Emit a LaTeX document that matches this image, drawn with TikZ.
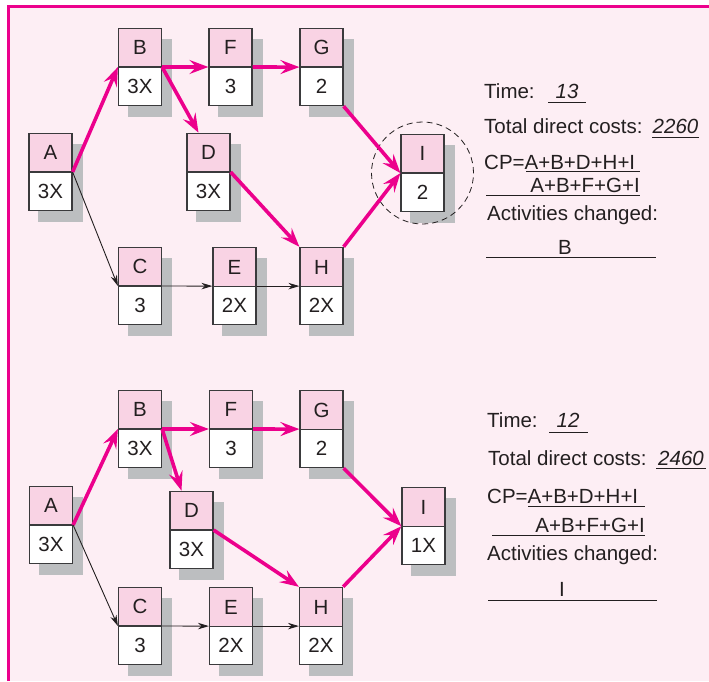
\documentclass[tikz,border=0pt]{standalone}
\usepackage{fontspec}
\setmainfont{Liberation Sans}
\usetikzlibrary{arrows.meta,calc,shapes.multipart,backgrounds}
\definecolor{NCPage}{HTML}{FDEEF4}
\definecolor{NCMagenta}{HTML}{EC008C}
\definecolor{NCHead}{HTML}{F9D3E4}
\definecolor{NCShadow}{HTML}{BCBEC0}
\definecolor{NCInk}{HTML}{231F20}
\definecolor{NCEdge}{HTML}{3A3A3C}
\newcommand{\ncfont}{\fontsize{20.5}{24}\selectfont}
\tikzset{
  crit/.style={-{Stealth[length=19pt,width=14pt,inset=7pt]},NCMagenta,line width=3.6pt},
  plain/.style={-{Stealth[length=11pt,width=6.5pt]},NCInk,line width=0.9pt},
  act/.style={rectangle split,rectangle split parts=2,draw=NCEdge,line width=1.2pt,
              rectangle split part fill={NCHead,white},minimum width=43pt,
              inner xsep=2pt,inner ysep=11.5pt,text height=14.5pt,text depth=0pt,
              text=NCInk,font=\ncfont},
  shade/.style={fill=NCShadow},
  note/.style={text=NCInk,font=\ncfont,anchor=base west,inner sep=0pt},
  noteend/.style={note,anchor=base east},
  value/.style={note,anchor=base,font=\ncfont\itshape},
  fieldline/.style={NCInk,line width=0.9pt},
  ring/.style={NCInk,line width=0.8pt,dash pattern=on 6pt off 4pt},
}
\begin{document}
\begin{tikzpicture}[x=1pt,y=-1pt]
    \useasboundingbox (0,0) rectangle (709,681);

    % upper network
    \node[act] (A1) at (50.5,172) {A\nodepart{two}3X};
    \node[act] (B1) at (140,67) {B\nodepart{two}3X};
    \node[act] (F1) at (230.5,67) {F\nodepart{two}3};
    \node[act] (G1) at (321.5,67) {G\nodepart{two}2};
    \node[act] (D1) at (208.5,172) {D\nodepart{two}3X};
    \node[act] (C1) at (140,286) {C\nodepart{two}3};
    \node[act] (E1) at (234.5,286) {E\nodepart{two}2X};
    \node[act] (H1) at (321.5,286) {H\nodepart{two}2X};
    \node[act] (I1) at (422.5,173) {I\nodepart{two}2};
    \draw[ring] (I1.center) circle[radius=51pt];

    \draw[crit] (A1.text split east) -- (B1.text split west);
    \draw[plain] (A1.text split east) -- (C1.text split west);
    \draw[crit] (B1.text split east) -- (F1.text split west);
    \draw[crit] (B1.text split east) -- ($(D1.north)+(-10,0)$);
    \draw[crit] (F1.text split east) -- (G1.text split west);
    \draw[crit] (G1.south east) -- (I1.text split west);
    \draw[crit] (D1.text split east) -- (H1.north west);
    \draw[crit] (H1.north east) -- (I1.text split west);
    \draw[plain] (C1.text split east) -- (E1.text split west);
    \draw[plain] (E1.text split east) -- (H1.text split west);

    \node[note] (time1) at (484,98) {Time:};
    \node[value] (tval1) at (567,98) {13};
    \draw[fieldline] (548,102) -- (586,102);
    \node[note] (cost1) at (484,133) {Total direct costs:};
    \node[value] (cval1) at (675.5,133) {2260};
    \draw[fieldline] (652,137) -- (699,137);
    \node[note] (cp1) at (484,169) {CP=A+B+D+H+I};
    \draw[fieldline] (526,171.5) -- (640,171.5);
    \node[noteend] (cpb1) at (640,192) {A+B+F+G+I};
    \draw[fieldline] (486,195) -- (640,195);
    \node[note] (chg1) at (487,220) {Activities changed:};
    \node[note,anchor=base] (chv1) at (565,254) {B};
    \draw[fieldline] (486,257) -- (656,257);

    % lower network
    \node[act] (A2) at (51,525) {A\nodepart{two}3X};
    \node[act] (B2) at (140,429) {B\nodepart{two}3X};
    \node[act] (F2) at (231,429) {F\nodepart{two}3};
    \node[act] (G2) at (321.5,429) {G\nodepart{two}2};
    \node[act] (D2) at (191.5,530) {D\nodepart{two}3X};
    \node[act] (C2) at (140,626) {C\nodepart{two}3};
    \node[act] (E2) at (231,626) {E\nodepart{two}2X};
    \node[act] (H2) at (321,626) {H\nodepart{two}2X};
    \node[act] (I2) at (423.5,526) {I\nodepart{two}1X};

    \draw[crit] (A2.text split east) -- (B2.text split west);
    \draw[plain] (A2.text split east) -- (C2.text split west);
    \draw[crit] (B2.text split east) -- (F2.text split west);
    \draw[crit] (B2.text split east) -- ($(D2.north)+(-10,0)$);
    \draw[crit] (F2.text split east) -- (G2.text split west);
    \draw[crit] (G2.south east) -- (I2.text split west);
    \draw[crit] (D2.text split east) -- (H2.north west);
    \draw[crit] (H2.north east) -- (I2.text split west);
    \draw[plain] (C2.text split east) -- (E2.text split west);
    \draw[plain] (E2.text split east) -- (H2.text split west);

    \node[note] (time2) at (487,427) {Time:};
    \node[value] (tval2) at (568,427) {12};
    \draw[fieldline] (549,432) -- (588,432);
    \node[note] (cost2) at (488,465) {Total direct costs:};
    \node[value] (cval2) at (681,465) {2460};
    \draw[fieldline] (656,468.5) -- (706,468.5);
    \node[note] (cp2) at (487,503) {CP=A+B+D+H+I};
    \draw[fieldline] (528,506) -- (645,506);
    \node[noteend] (cpb2) at (645,532) {A+B+F+G+I};
    \draw[fieldline] (492,535) -- (645,535);
    \node[note] (chg2) at (487,560) {Activities changed:};
    \node[note,anchor=base] (chv2) at (562,596) {I};
    \draw[fieldline] (488,600) -- (657,600);

    % page and shadows behind everything
    \begin{scope}[on background layer]
      \fill[white] (0,0) rectangle (709,681);
      \fill[NCPage] (8,6.5) rectangle (709,681);
      \draw[NCMagenta,line width=3pt] (8,681) -- (8,6.5) -- (709,6.5);
      \foreach \n in {A1,B1,F1,G1,D1,C1,E1,H1,I1,A2,B2,F2,G2,D2,C2,E2,H2,I2}
        \fill[shade] ($(\n.north west)+(10,11)$) rectangle ($(\n.south east)+(10,11)$);
    \end{scope}
  \end{tikzpicture}
\end{document}
